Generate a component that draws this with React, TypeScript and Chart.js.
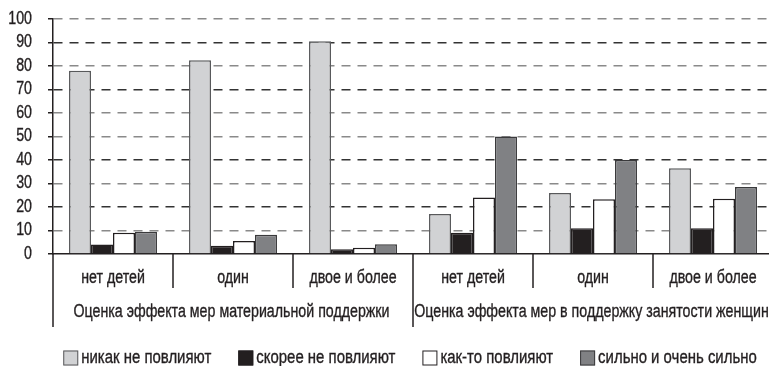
import React, { useEffect, useRef } from "react";
import { Chart, registerables } from "chart.js";

Chart.register(...registerables);

const categories = ["нет детей", "один", "двое и более", "нет детей", "один", "двое и более"];
const groupLabels = [
  "Оценка эффекта мер материальной поддержки",
  "Оценка эффекта мер в поддержку занятости женщин",
];
const seriesNames = ["никак не повлияют", "скорее не повлияют", "как-то повлияют", "сильно и очень сильно"];
const noEffect = [78, 82.5, 90.5, 17, 26, 36.5];
const ratherNoEffect = [4, 3.5, 2, 9, 11, 11];
const someEffect = [9, 5.5, 2.7, 24, 23.3, 23.5];
const strongEffect = [9.5, 8.2, 4.2, 50, 40, 28.5];
const yMin = 0;
const yMax = 100;
const yStep = 10;

const FONT = "'Liberation Sans', Arial, sans-serif";
const FONT_SIZE = 18;
const SQUEEZE = 0.79;
const LEGEND_SQUEEZE = 0.83;
const TEXT = "#231f20";
const fills = ["#d1d2d4", "#231f20", "#ffffff", "#808184"];
const borders = ["#58595b", "#231f20", "#231f20", "#3a3a3c"];
const gridColorsByValue: Record<number, string> = {
  0: "rgba(0,0,0,0)",
  10: "#8a8a8a",
  20: "#333333",
  30: "#8a8a8a",
  40: "#333333",
  50: "#8a8a8a",
  60: "#8a8a8a",
  70: "#333333",
  80: "#8a8a8a",
  90: "#333333",
  100: "#8a8a8a",
};

function squeezedText(
  ctx: CanvasRenderingContext2D,
  text: string,
  x: number,
  y: number,
  align: CanvasTextAlign,
  sq: number = SQUEEZE
) {
  ctx.save();
  ctx.translate(x, y);
  ctx.scale(sq, 1);
  ctx.textAlign = align;
  ctx.fillText(text, 0, 0);
  ctx.lineWidth = 0.35;
  ctx.strokeStyle = TEXT;
  ctx.strokeText(text, 0, 0);
  ctx.restore();
}

const extrasPlugin = {
  id: "extras",
  afterDraw(chart: any) {
    const ctx: CanvasRenderingContext2D = chart.ctx;
    const xs = chart.scales.x;
    const ys = chart.scales.y;
    const area = chart.chartArea;
    const n = categories.length;
    const step = xs.getPixelForValue(1) - xs.getPixelForValue(0);
    const edge = (i: number) => xs.getPixelForValue(0) - step / 2 + i * step;
    const perGroup = n / groupLabels.length;
    ctx.save();
    ctx.strokeStyle = TEXT;
    ctx.lineWidth = 1.5;
    for (let i = 0; i <= n; i++) {
      const isGroup = i % perGroup === 0;
      const x = edge(i);
      ctx.beginPath();
      ctx.moveTo(x, area.bottom);
      ctx.lineTo(x, area.bottom + (isGroup ? 73 : 34));
      ctx.stroke();
    }
    ctx.fillStyle = TEXT;
    ctx.font = `${FONT_SIZE}px ${FONT}`;
    ctx.textBaseline = "middle";
    // y tick labels
    for (let v = yMin; v <= yMax; v += yStep) {
      squeezedText(ctx, String(v), area.left - 21, ys.getPixelForValue(v), "right");
    }
    // category labels
    categories.forEach((c, i) => {
      squeezedText(ctx, c, xs.getPixelForValue(i), area.bottom + 24, "center");
    });
    // group labels
    groupLabels.forEach((g, gi) => {
      const cx = (edge(gi * perGroup) + edge((gi + 1) * perGroup)) / 2;
      squeezedText(ctx, g, cx - 1.5, area.bottom + 58, "center");
    });
    // legend
    const box = 15;
    const gapText = 3;
    const gapItem = 27;
    const widths = seriesNames.map((s) => ctx.measureText(s).width * LEGEND_SQUEEZE);
    const total = widths.reduce((a, w) => a + box + gapText + w, 0) + gapItem * (seriesNames.length - 1);
    let x = (area.left + area.right) / 2 - total / 2 - 3;
    const ly = area.bottom + 104;
    seriesNames.forEach((s, i) => {
      ctx.fillStyle = fills[i];
      ctx.fillRect(x, ly - box / 2, box, box);
      ctx.strokeStyle = borders[i];
      ctx.lineWidth = 1;
      ctx.strokeRect(x + 0.5, ly - box / 2 + 0.5, box - 1, box - 1);
      ctx.fillStyle = TEXT;
      squeezedText(ctx, s, x + box + gapText, ly, "left", LEGEND_SQUEEZE);
      x += box + gapText + widths[i] + gapItem;
    });
    ctx.restore();
  },
};

export default function App() {
  const ref = useRef<HTMLCanvasElement | null>(null);
  useEffect(() => {
    if (!ref.current) return;
    const series = [noEffect, ratherNoEffect, someEffect, strongEffect];
    const chart = new Chart(ref.current, {
      type: "bar",
      data: {
        labels: categories,
        datasets: series.map((d, i) => ({
          label: seriesNames[i],
          data: d,
          backgroundColor: fills[i],
          borderColor: borders[i],
          borderWidth: 1.5,
          categoryPercentage: 0.733,
          barPercentage: 1,
        })),
      },
      options: {
        responsive: false,
        animation: false,
        devicePixelRatio: 1,
        layout: { padding: { top: 19, right: 3, bottom: 0, left: 0 } },
        plugins: { legend: { display: false }, tooltip: { enabled: false } },
        scales: {
          x: {
            afterFit: (s: any) => {
              s.height = 112;
            },
            grid: { display: false, drawTicks: false },
            border: { display: true, color: TEXT, width: 1.5 },
            ticks: { display: false, autoSkip: false },
          },
          y: {
            min: yMin,
            max: yMax,
            afterFit: (s: any) => {
              s.width = 53;
            },
            ticks: { display: false, stepSize: yStep },
            grid: {
              color: (c: any) => gridColorsByValue[c.tick?.value] ?? "#8a8a8a",
              lineWidth: 1.5,
              drawTicks: true,
              tickLength: 5,
              tickColor: TEXT,
              tickWidth: 1.5,
            },
            border: { display: true, color: TEXT, width: 1.5, dash: [9, 7] },
          },
        },
      },
      plugins: [extrasPlugin],
    });
    return () => chart.destroy();
  }, []);
  return (
    <div style={{ position: "fixed", left: 0, top: 0, width: 769, height: 366, overflow: "hidden", background: "#fff" }}>
      <canvas ref={ref} width={776} height={366} style={{ display: "block" }} />
    </div>
  );
}
